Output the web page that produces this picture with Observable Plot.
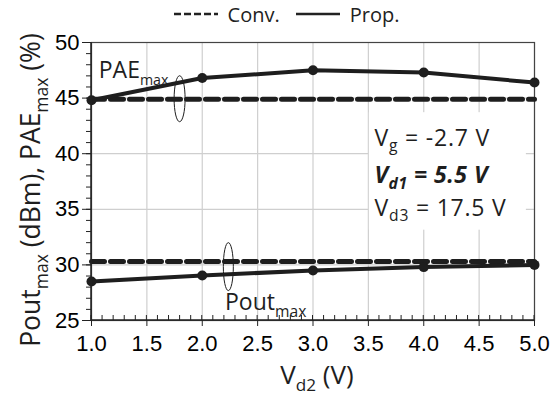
<!DOCTYPE html>
<html>
<head>
<meta charset="utf-8">
<script src="https://cdn.jsdelivr.net/npm/d3@7"></script>
<script src="https://cdn.jsdelivr.net/npm/@observablehq/plot@0.6"></script>
<style>
  body { margin: 0; background: #fff; }
  #legend { height: 28px; display: flex; justify-content: center; align-items: center; font-family: "Open Sans", sans-serif; font-size: 20px; color: #222; padding-left: 20px; box-sizing: border-box; }
  #legend span { margin: 0 8px; }
</style>
</head>
<body>
<div id="legend">
  <svg width="48" height="10"><line x1="2" x2="46" y1="5" y2="5" stroke="#222" stroke-width="2.5" stroke-dasharray="7,3"/></svg>
  <span style="margin-right:14px">Conv.</span>
  <svg width="48" height="10"><line x1="2" x2="46" y1="5" y2="5" stroke="#222" stroke-width="2.5"/></svg>
  <span>Prop.</span>
</div>
<div id="chart"></div>
<script>
// ---- data ----
const vd2 = [1, 2, 3, 4, 5];
const paeProp = [44.8, 46.8, 47.5, 47.3, 46.4];
const paeConv = [44.9, 44.9, 44.9, 44.9, 44.9];
const poutProp = [28.5, 29.05, 29.5, 29.8, 30.0];
const poutConv = [30.3, 30.3, 30.3, 30.3, 30.3];
const xTicks = [1.0, 1.5, 2.0, 2.5, 3.0, 3.5, 4.0, 4.5, 5.0];
const yTicks = [25, 30, 35, 40, 45, 50];
const xMinor = d3.range(1, 5.0001, 0.1);
const yMinor = d3.range(25, 50.0001, 1);
const annotLines = [
  {main: "V", sub: "g", rest: " = -2.7 V", y: 41.35, bold: false},
  {main: "V", sub: "d1", rest: " = 5.5 V", y: 38.0, bold: true},
  {main: "V", sub: "d3", rest: " = 17.5 V", y: 35.1, bold: false}
];
const annotX = 3.56;

const W = 559, H = 369;
const mL = 91, mR = 25, mT = 14, mB = 77;
const ink = "#1e1e1e";
const textFont = "'Open Sans', sans-serif";
const tickFont = "'Liberation Sans', Arial, sans-serif";

const rows = (ys) => vd2.map((x, i) => ({x, y: ys[i]}));

function subText(g, x, y, parts, size, opts = {}) {
  const t = g.append("text").attr("x", x).attr("y", y)
    .attr("font-family", textFont).attr("font-size", size).attr("fill", ink)
    .attr("text-anchor", opts.anchor || "start");
  if (opts.transform) t.attr("transform", opts.transform);
  if (opts.weight) t.attr("font-weight", opts.weight);
  if (opts.style) t.attr("font-style", opts.style);
  if (opts.spacing) t.attr("letter-spacing", opts.spacing);
  const shift = size * (opts.shift || 0.3);
  const subSize = opts.subSize || 0.68;
  let lowered = false;
  for (const p of parts) {
    if (p.sub) {
      t.append("tspan").attr("font-size", size * subSize).attr("dy", shift).text(p.sub);
      lowered = true;
    } else {
      const s = t.append("tspan").text(p.t);
      if (lowered) { s.attr("dy", -shift); lowered = false; }
    }
  }
  return t;
}

const chart = Plot.plot({
  width: W, height: H,
  marginLeft: mL, marginRight: mR, marginTop: mT, marginBottom: mB,
  x: {domain: [1, 5]},
  y: {domain: [25, 50]},
  marks: [
    Plot.ruleX(xTicks, {stroke: "#cfcfcf", strokeWidth: 1.2}),
    Plot.ruleY(yTicks, {stroke: "#cfcfcf", strokeWidth: 1.2}),
    // white box behind the bias annotation
    (index, scales, values, dims) => {
      const g = d3.create("svg:g");
      const x0 = scales.x(3.5) + 1;
      const yTop = scales.y(annotLines[0].y) - 26;
      const yBot = scales.y(annotLines[2].y) + 22;
      g.append("rect").attr("x", x0).attr("y", yTop).attr("width", 157).attr("height", yBot - yTop).attr("fill", "white");
      return g.node();
    },
    Plot.frame({stroke: "#444", strokeWidth: 1.2}),
    Plot.line(rows(paeConv), {x: "x", y: "y", stroke: ink, strokeWidth: 5, strokeDasharray: "13,6"}),
    Plot.line(rows(poutConv), {x: "x", y: "y", stroke: ink, strokeWidth: 5, strokeDasharray: "13,6"}),
    Plot.line(rows(paeProp), {x: "x", y: "y", stroke: ink, strokeWidth: 4}),
    Plot.line(rows(poutProp), {x: "x", y: "y", stroke: ink, strokeWidth: 4}),
    Plot.dot(rows(paeProp), {x: "x", y: "y", r: 5, fill: ink}),
    Plot.dot(rows(poutProp), {x: "x", y: "y", r: 5, fill: ink}),
    Plot.axisY(yTicks, {tickSize: 9, tickPadding: 3, fontSize: 22, fontFamily: tickFont, stroke: "#222", label: null, tickFormat: d => d}),
    Plot.axisY(yMinor, {tickSize: 5, text: null, label: null, stroke: "#222"}),
    Plot.axisX(xTicks, {tickSize: 6, tickPadding: 9, fontSize: 22, fontFamily: tickFont, stroke: "#222", label: null, tickFormat: d3.format(".1f")}),
    // inward minor x ticks and axis lines
    (index, scales, values, dims) => {
      const g = d3.create("svg:g").attr("stroke", "#222").attr("stroke-width", 1);
      const yb = dims.height - dims.marginBottom;
      for (const t of xMinor) {
        const x = scales.x(t);
        g.append("line").attr("x1", x).attr("x2", x).attr("y1", yb).attr("y2", yb - 5);
      }
      g.append("line").attr("x1", dims.marginLeft).attr("x2", dims.width - dims.marginRight).attr("y1", yb).attr("y2", yb).attr("stroke-width", 1.5);
      g.append("line").attr("x1", dims.marginLeft).attr("x2", dims.marginLeft).attr("y1", dims.marginTop).attr("y2", yb).attr("stroke-width", 1.5);
      return g.node();
    },
    // ellipses grouping the curves
    (index, scales) => {
      const g = d3.create("svg:g").attr("fill", "none").attr("stroke", ink).attr("stroke-width", 1);
      g.append("ellipse").attr("cx", scales.x(1.8)).attr("cy", scales.y(44.9)).attr("rx", 5.5).attr("ry", 23);
      g.append("ellipse").attr("cx", scales.x(2.24)).attr("cy", scales.y(29.8)).attr("rx", 5).attr("ry", 24);
      return g.node();
    },
    // curve labels, annotation, axis titles
    (index, scales, values, dims) => {
      const g = d3.create("svg:g");
      subText(g, scales.x(1.07), scales.y(46.75), [{t: "PAE"}, {sub: "max"}], 23, {subSize: 0.62});
      subText(g, scales.x(2.21), scales.y(25.9), [{t: "Pout"}, {sub: "max"}], 23, {subSize: 0.68});
      for (const l of annotLines) {
        subText(g, scales.x(annotX), scales.y(l.y) + 8, [{t: l.main}, {sub: l.sub}, {t: l.rest}], 23,
          l.bold ? {weight: "bold", style: "italic", spacing: 0.5, shift: 0.22} : {spacing: 0.8, shift: 0.22});
      }
      subText(g, 317, dims.height - 13,
        [{t: "V"}, {sub: "d2"}, {t: " (V)"}], 26, {anchor: "middle", subSize: 0.66, shift: 0.25});
      subText(g, 0, 0, [{t: "Pout"}, {sub: "max"}, {t: " (dBm), PAE"}, {sub: "max"}, {t: " (%)"}], 26.5,
        {anchor: "middle", subSize: 0.66, transform: `translate(40,${190 - 28}) rotate(-90)`});
      return g.node();
    }
  ]
});
document.getElementById("chart").appendChild(chart);
</script>
</body>
</html>
